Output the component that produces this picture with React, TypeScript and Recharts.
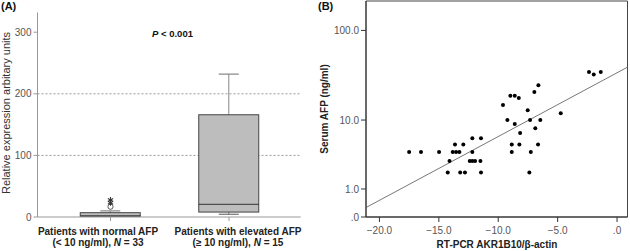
import React from "react";
import {
  ComposedChart,
  Bar,
  Line,
  XAxis,
  YAxis,
  CartesianGrid,
  ScatterChart,
  Scatter,
  ReferenceLine,
  ReferenceArea,
} from "recharts";

// ---------- Panel A data (box plot) ----------
const groups = ["normal", "elevated"];
const groupLine1 = ["Patients with normal AFP", "Patients with elevated AFP"];
const groupLine2 = ["(< 10 ng/ml), ", "(\u2265 10 ng/ml), "];
const groupN = [33, 15];
const whiskerLow = [0, 4.5];
const quart1 = [0.5, 8];
const medians = [2, 20.6];
const quart3 = [7, 166];
const whiskerHigh = [10, 232];
const outlierCircle = [16.7, null];
const outlierStarA = [23, null];
const outlierStarB = [27.6, null];
const yTicksA = [0, 100, 200, 300];
const gridValuesA = [100, 200];

// ---------- Panel B data (scatter) ----------
const akrValues = [
  -17.5, -16.5, -14.98, -14.1, -14.25, -13.83, -13.64, -13.55, -13.27, -13.2,
  -12.94, -12.8, -12.4, -12.18, -12.18, -12.18, -11.95, -11.45, -11.45, -11.5,
  -9.6, -9.23, -8.98, -8.86, -8.86, -8.61, -8.61, -8.27, -8.16, -8.22,
  -7.52, -7.38, -7.32, -7.26, -6.96, -6.88, -6.62, -6.65, -6.46, -4.74,
  -2.36, -1.96, -1.37,
];
const afpValues = [
  4, 4, 4, 3, 2, 4, 5, 4, 4, 2,
  5, 2, 3, 6, 4, 3, 3, 6, 2, 3,
  15, 10, 19, 5, 4, 9, 19, 18, 7, 5,
  13, 2, 10, 4, 21, 8, 25, 5, 10, 12,
  35, 33, 35,
];
const xTicksB = [-20, -15, -10, -5, 0];
const yTickAfpB = [0, 1, 10, 100];
const fitIntercept = 1.549; // log10(AFP+1) at x = 0
const fitSlope = 0.0685;
const X_MIN_B = -21.13;
const X_MAX_B = 0.88;
const Y_MAX_B = 2.32;

// label placement style (labels are not centred under the boxes in the original)
const labelShift = [-12.5, 9];

const toLog = (v: number) => Math.log10(v + 1);

const boxData = groups.map((g, i) => ({
  name: g,
  range: [whiskerLow[i], whiskerHigh[i]],
  lo: whiskerLow[i],
  q1: quart1[i],
  med: medians[i],
  q3: quart3[i],
  hi: whiskerHigh[i],
  oc: outlierCircle[i],
  os1: outlierStarA[i],
  os2: outlierStarB[i],
}));

const scatterData = akrValues.map((x, i) => ({ x, y: toLog(afpValues[i]) }));
const yTicksB = yTickAfpB.map(toLog);

const BoxShape = (props: any) => {
  const { x, y, width, height, payload } = props;
  if (!payload) return <g />;
  const { lo, hi, q1, med, q3 } = payload;
  const top = Math.min(y, y + height);
  const bottom = Math.max(y, y + height);
  const px = (v: number) => bottom - ((bottom - top) * (v - lo)) / (hi - lo);
  const cx = x + width / 2;
  const cap = 10;
  return (
    <g>
      <line x1={cx} x2={cx} y1={px(hi)} y2={px(q3)} stroke="#9a9a9a" strokeWidth={1.2} />
      <line x1={cx} x2={cx} y1={px(q1)} y2={px(lo)} stroke="#9a9a9a" strokeWidth={1.2} />
      <line x1={cx - cap} x2={cx + cap} y1={px(hi)} y2={px(hi)} stroke="#8a8a8a" strokeWidth={1.2} />
      <line x1={cx - cap} x2={cx + cap} y1={px(lo)} y2={px(lo)} stroke="#555" strokeWidth={1} />
      <rect
        x={x}
        y={px(q3)}
        width={width}
        height={Math.max(px(q1) - px(q3), 0.5)}
        fill="#bdbdbd"
        stroke="#444"
        strokeWidth={1}
      />
      <line x1={x} x2={x + width} y1={px(med)} y2={px(med)} stroke="#333" strokeWidth={1} />
    </g>
  );
};

const circleDot = (p: any) => {
  if (p.value == null || p.cy == null || isNaN(p.cy)) return <g key={`c${p.index}`} />;
  return <circle key={`c${p.index}`} cx={p.cx} cy={p.cy} r={2.6} fill="#fff" stroke="#555" strokeWidth={1} />;
};

const starDot = (p: any) => {
  if (p.value == null || p.cy == null || isNaN(p.cy)) return <g key={`s${p.index}`} />;
  const r = 3;
  const lines = [0, 60, 120].map((a) => {
    const rad = (a * Math.PI) / 180;
    return (
      <line
        key={a}
        x1={p.cx - r * Math.sin(rad)}
        y1={p.cy - r * Math.cos(rad)}
        x2={p.cx + r * Math.sin(rad)}
        y2={p.cy + r * Math.cos(rad)}
        stroke="#333"
        strokeWidth={1.1}
      />
    );
  });
  return <g key={`s${p.index}-${p.dataKey}`}>{lines}</g>;
};

const GroupTick = (props: any) => {
  const { x, y, payload } = props;
  const i = groups.indexOf(payload.value);
  const lx = x + (labelShift[i] ?? 0);
  return (
    <g>
      <text x={lx} y={y + 11.5} textAnchor="middle" fontSize={10} fontWeight="bold" fill="#222">
        {groupLine1[i]}
      </text>
      <text x={lx} y={y + 23} textAnchor="middle" fontSize={10} fontWeight="bold" fill="#222">
        {groupLine2[i]}
        <tspan fontStyle="italic">N</tspan>
        {` = ${groupN[i]}`}
      </text>
    </g>
  );
};

const fmtB = (v: number) => {
  if (v === 0) return ".0";
  const s = Math.abs(v).toFixed(1);
  return v < 0 ? `\u2212${s}` : s;
};

const fmtBY = (v: number) => {
  const idx = yTicksB.findIndex((t) => Math.abs(t - v) < 1e-6);
  const afp = idx >= 0 ? yTickAfpB[idx] : Math.pow(10, v) - 1;
  return afp === 0 ? ".0" : afp.toFixed(1);
};

const tickStyle = { fontSize: 10, fill: "#555" };

export default function App() {
  return (
    <div
      style={{
        position: "absolute",
        left: 0,
        top: 0,
        width: 630,
        height: 251,
        background: "#fff",
        fontFamily: "'Liberation Sans', Arial, sans-serif",
        overflow: "hidden",
      }}
    >
      <div style={{ position: "absolute", left: 0, top: 0 }}>
        <ComposedChart
          width={320}
          height={251}
          data={boxData}
          margin={{ top: 12.5, right: 19.3, bottom: 4, left: 7.5 }}
        >
          <CartesianGrid
            vertical={false}
            horizontalValues={gridValuesA}
            stroke="#999"
            strokeDasharray="2 2"
          />
          <XAxis
            dataKey="name"
            type="category"
            height={30}
            padding={{ left: 13.75, right: 12.45 }}
            axisLine={{ stroke: "#999" }}
            tickLine={{ stroke: "#999" }}
            tickSize={4}
            tick={<GroupTick />}
            interval={0}
          />
          <XAxis
            xAxisId="top"
            dataKey="name"
            orientation="top"
            height={0}
            axisLine={{ stroke: "#999" }}
            tick={false}
            tickLine={false}
          />
          <YAxis
            type="number"
            domain={[0, 332]}
            ticks={yTicksA}
            width={30}
            axisLine={{ stroke: "#999" }}
            tickLine={{ stroke: "#999" }}
            tickSize={4}
            tick={tickStyle}
            interval={0}
            allowDataOverflow
          />
          <YAxis
            yAxisId="right"
            orientation="right"
            type="number"
            domain={[0, 332]}
            width={0}
            axisLine={{ stroke: "#999" }}
            tick={false}
            tickLine={false}
          />
          <Bar dataKey="range" barSize={60} shape={<BoxShape />} isAnimationActive={false} />
          <Line dataKey="oc" stroke="none" dot={circleDot} activeDot={false} isAnimationActive={false} />
          <Line dataKey="os1" stroke="none" dot={starDot} activeDot={false} isAnimationActive={false} />
          <Line dataKey="os2" stroke="none" dot={starDot} activeDot={false} isAnimationActive={false} />
        </ComposedChart>
      </div>

      <div style={{ position: "absolute", left: 320, top: 0 }}>
        <ScatterChart width={310} height={251} margin={{ top: 1, right: 2.5, bottom: 4, left: 6 }}>
          <XAxis
            type="number"
            dataKey="x"
            domain={[X_MIN_B, X_MAX_B]}
            ticks={xTicksB}
            tickFormatter={fmtB}
            height={30}
            axisLine={{ stroke: "#333" }}
            tickLine={{ stroke: "#333" }}
            tickSize={5}
            tickMargin={5}
            tick={tickStyle}
            interval={0}
            allowDataOverflow
          />
          <YAxis
            type="number"
            dataKey="y"
            domain={[0, Y_MAX_B]}
            ticks={yTicksB}
            tickFormatter={fmtBY}
            width={40}
            axisLine={{ stroke: "#333" }}
            tickLine={{ stroke: "#333" }}
            tickSize={5}
            tick={tickStyle}
            interval={0}
            allowDataOverflow
          />
          <ReferenceArea
            x1={X_MIN_B}
            x2={X_MAX_B}
            y1={0}
            y2={Y_MAX_B}
            fill="none"
            stroke="#444"
            strokeWidth={1}
            ifOverflow="visible"
          />
          <ReferenceLine
            segment={[
              { x: X_MIN_B, y: fitIntercept + fitSlope * X_MIN_B },
              { x: X_MAX_B, y: fitIntercept + fitSlope * X_MAX_B },
            ]}
            stroke="#777"
            strokeWidth={1}
            ifOverflow="visible"
          />
          <Scatter
            data={scatterData}
            fill="#000"
            shape={(p: any) => <circle cx={p.cx} cy={p.cy} r={2} fill="#000" />}
            isAnimationActive={false}
          />
        </ScatterChart>
      </div>

      <svg
        width={630}
        height={251}
        style={{ position: "absolute", left: 0, top: 0, pointerEvents: "none" }}
      >
        <text x={1} y={9.5} fontSize={11} fontWeight="bold" fill="#111">(A)</text>
        <text x={318} y={9.5} fontSize={11} fontWeight="bold" fill="#111">(B)</text>
        <text x={152} y={36.5} fontSize={9.5} fontWeight="bold" fill="#111">
          <tspan fontStyle="italic">P</tspan> &lt; 0.001
        </text>
        <text
          x={10}
          y={113}
          fontSize={11}
          fill="#333"
          textAnchor="middle"
          transform="rotate(-90 10 113)"
        >
          Relative expression arbitary units
        </text>
        <text
          x={328}
          y={109}
          fontSize={10}
          fontWeight="bold"
          fill="#222"
          textAnchor="middle"
          transform="rotate(-90 328 109)"
        >
          Serum AFP (ng/ml)
        </text>
        <text x={497} y={248} fontSize={10} fontWeight="bold" fill="#222" textAnchor="middle">
          RT-PCR AKR1B10/β-actin
        </text>
      </svg>
    </div>
  );
}
